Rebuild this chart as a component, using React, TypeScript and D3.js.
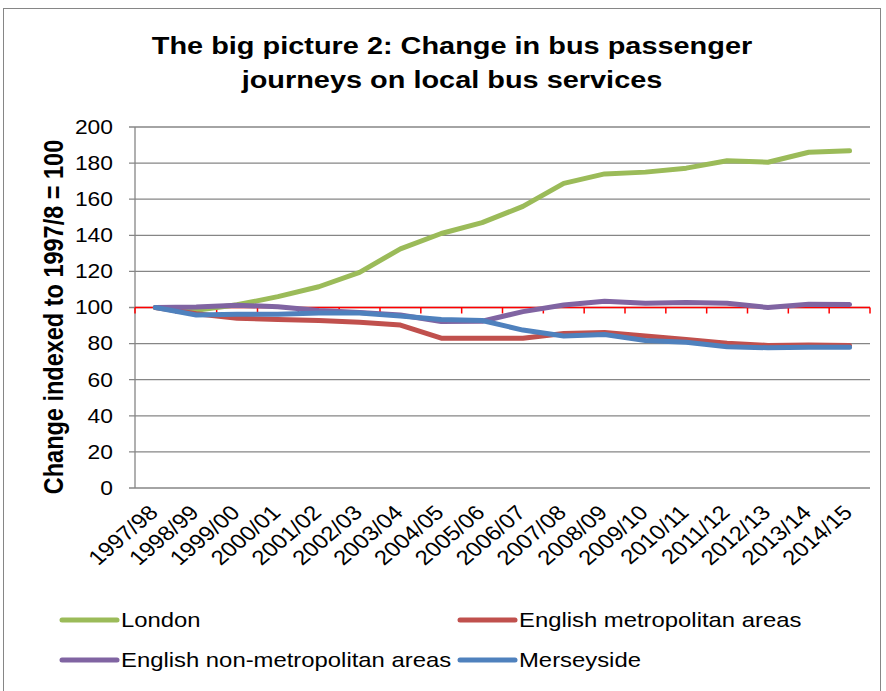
import React from "react";
import * as d3 from "d3";

const categories = ["1997/98","1998/99","1999/00","2000/01","2001/02","2002/03","2003/04","2004/05","2005/06","2006/07","2007/08","2008/09","2009/10","2010/11","2011/12","2012/13","2013/14","2014/15"];
const london = [100, 98.5, 101.5, 106, 111.5, 119.5, 132.5, 141, 147, 156, 168.8, 174, 175, 177.2, 181.3, 180.5, 186, 186.8];
const metro = [100, 96.5, 94, 93.4, 92.8, 91.8, 90.3, 83, 83, 83, 85.6, 86.1, 84.2, 82.3, 80.2, 79, 79.2, 79];
const nonMetro = [100, 100.3, 101.3, 100.4, 98.3, 97.2, 95.8, 92.2, 92.4, 97.7, 101.4, 103.5, 102.3, 102.8, 102.3, 100, 101.8, 101.7];
const merseyside = [100, 95.8, 96.3, 96.2, 97, 97, 95.3, 93.3, 92.8, 87.5, 84.2, 85, 81.7, 80.7, 78.3, 77.7, 78, 78];
const yTicks = [0, 20, 40, 60, 80, 100, 120, 140, 160, 180, 200];

const seriesNames = ["London", "English metropolitan areas", "English non-metropolitan areas", "Merseyside"];
const seriesColors = ["#9BBB59", "#C0504D", "#8064A2", "#4F81BD"];
const seriesValues = [london, metro, nonMetro, merseyside];

const SX = 1.17;

export default function App() {
  const W = 886, H = 691;
  const left = 135, right = 870, top = 127, bottom = 488;
  const x = d3.scaleBand<string>().domain(categories).range([left, right]).padding(0);
  const y = d3.scaleLinear().domain([0, 200]).range([bottom, top]);
  const line = d3.line<number>()
    .x((_, i) => (x(categories[i]) as number) + x.bandwidth() / 2)
    .y((d) => y(d));
  const font = "'Liberation Sans', Arial, sans-serif";
  const y100 = y(100);
  const boundaries = d3.range(categories.length + 1).map((i) => left + i * x.bandwidth());

  const legendItems = [
    { lx: 62, ly: 620 },
    { lx: 460, ly: 620 },
    { lx: 62, ly: 660 },
    { lx: 460, ly: 660 },
  ];

  return (
    <svg width={W} height={H} style={{ position: "absolute", left: 0, top: 0, background: "#fff" }} fontFamily={font}>
      <rect x={3.5} y={8.5} width={877} height={700} fill="#fff" stroke="#868686" strokeWidth={1} />
      <text transform={`translate(452,54) scale(${SX},1)`} textAnchor="middle" fontSize={24.7} fontWeight="bold">The big picture 2: Change in bus passenger</text>
      <text transform={`translate(452,88) scale(${SX},1)`} textAnchor="middle" fontSize={24.7} fontWeight="bold">journeys on local bus services</text>

      {yTicks.map((t) => (
        <g key={t}>
          <line x1={left - 6} x2={right} y1={y(t)} y2={y(t)} stroke="#868686" strokeWidth={1.3} />
          <text transform={`translate(113,${y(t)}) scale(${SX},1)`} dy="0.35em" textAnchor="end" fontSize={19.5}>{t}</text>
        </g>
      ))}
      <line x1={left} x2={left} y1={top} y2={bottom} stroke="#868686" strokeWidth={1.3} />

      <line x1={left} x2={right} y1={y100} y2={y100} stroke="#FF0000" strokeWidth={1.5} />
      {boundaries.map((bx, i) => (
        <line key={i} x1={bx} x2={bx} y1={y100} y2={y100 + 6} stroke="#FF0000" strokeWidth={1.5} />
      ))}

      <text transform={`translate(63,317) scale(${SX},1) rotate(-90)`} textAnchor="middle" fontSize={23.5} fontWeight="bold">Change indexed to 1997/8 = 100</text>

      {categories.map((c) => {
        const cx = (x(c) as number) + x.bandwidth() / 2;
        return (
          <text key={c} transform={`translate(${cx + 4},${514}) scale(${SX},1) rotate(-45)`} textAnchor="end" fontSize={20.5}>{c}</text>
        );
      })}

      {seriesValues.map((vals, i) => (
        <path key={i} d={line(vals) as string} fill="none" stroke={seriesColors[i]} strokeWidth={5} strokeLinejoin="round" strokeLinecap="round" />
      ))}

      {seriesNames.map((n, i) => (
        <g key={n}>
          <line x1={legendItems[i].lx} x2={legendItems[i].lx + 55} y1={legendItems[i].ly} y2={legendItems[i].ly} stroke={seriesColors[i]} strokeWidth={5} strokeLinecap="round" />
          <text transform={`translate(${legendItems[i].lx + 59},${legendItems[i].ly}) scale(${SX},1)`} dy="0.35em" fontSize={20.4}>{n}</text>
        </g>
      ))}
    </svg>
  );
}
